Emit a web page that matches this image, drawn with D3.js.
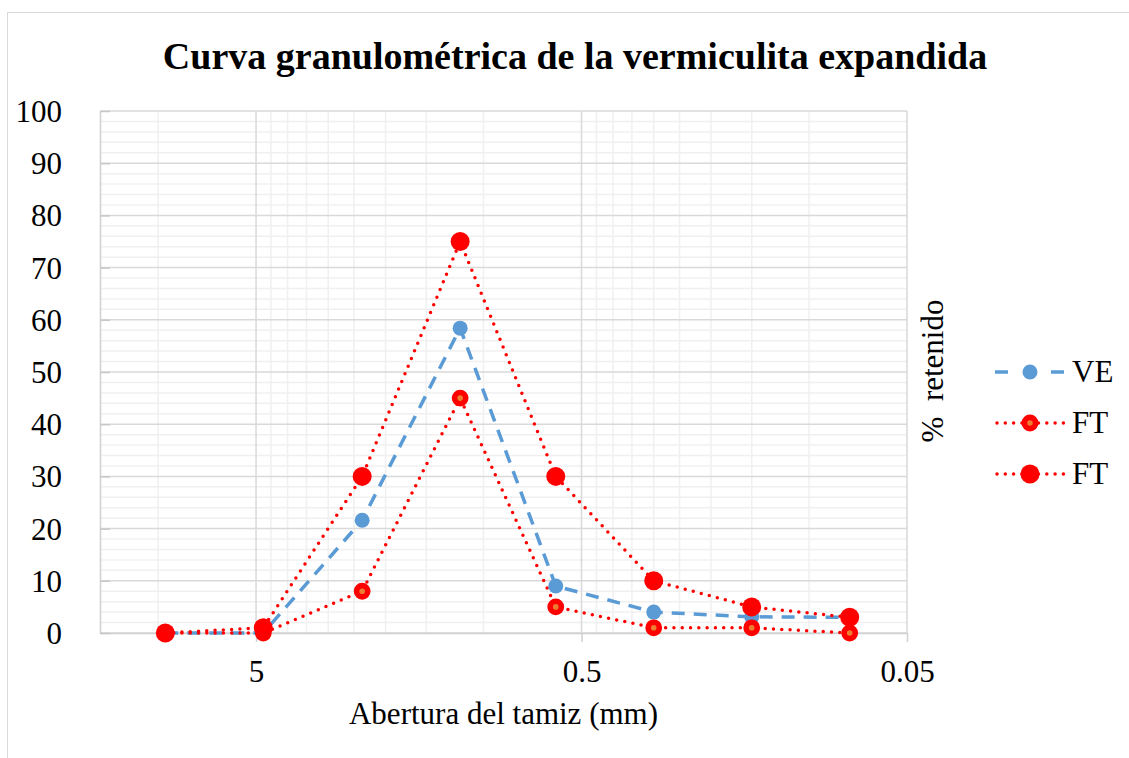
<!DOCTYPE html>
<html>
<head>
<meta charset="utf-8">
<script src="https://cdnjs.cloudflare.com/ajax/libs/d3/7.8.5/d3.min.js"></script>
<style>
  body { margin: 0; background: #fff; }
</style>
</head>
<body>
<div id="wrapper"></div>
<script>
// 1. Data
const aberturas = [9.5, 4.75, 2.36, 1.18, 0.6, 0.3, 0.15, 0.075]
const retenidoVE = [0, 0, 21.6, 58.4, 9, 4, 3.1, 3]
const retenidoFTmin = [0, 0, 8, 45, 5, 1, 1, 0]
const retenidoFTmax = [0, 1, 30, 75, 30, 10, 5, 3]
const serieNames = ["VE", "FT", "FT"]
const xTickValues = [5, 0.5, 0.05]
const xTickLabels = ["5", "0.5", "0.05"]
const yTickValues = [0, 10, 20, 30, 40, 50, 60, 70, 80, 90, 100]

const titleText = "Curva granulométrica de la vermiculita expandida"
const xTitle = "Abertura del tamiz (mm)"
const yTitle = "%  retenido"

const series = [
  { name: serieNames[0], values: retenidoVE, kind: "ve" },
  { name: serieNames[1], values: retenidoFTmin, kind: "ftmin" },
  { name: serieNames[2], values: retenidoFTmax, kind: "ftmax" },
]

const styles = {
  ve: { stroke: "#5b9bd5", dash: "13 9", cap: "butt" },
  ftmin: { stroke: "#ff0000", dash: "0 8.3", cap: "round" },
  ftmax: { stroke: "#ff0000", dash: "0 8.3", cap: "round" },
}

const fontFamily = "'Liberation Serif', 'Times New Roman', serif"

function drawChart() {
  // 2. Chart dimensions
  let dimensions = {
    width: 1129,
    height: 758,
    margin: { top: 111, right: 222, bottom: 125, left: 100 }
  }
  dimensions.boundedWidth = dimensions.width
    - dimensions.margin.left
    - dimensions.margin.right
  dimensions.boundedHeight = dimensions.height
    - dimensions.margin.top
    - dimensions.margin.bottom

  // 3. Draw canvas
  const wrapper = d3.select("#wrapper")
    .append("svg")
      .attr("width", dimensions.width)
      .attr("height", dimensions.height)
      .style("font-family", fontFamily)

  wrapper.append("rect")
      .attr("x", 7.5)
      .attr("y", 12.5)
      .attr("width", 1200)
      .attr("height", 800)
      .attr("fill", "#fff")
      .attr("stroke", "#d9d9d9")

  const bounds = wrapper.append("g")
      .attr("transform", `translate(${dimensions.margin.left},${dimensions.margin.top})`)

  // 4. Scales
  const xScale = d3.scaleLog()
    .domain([15.08, 0.05])
    .range([0, dimensions.boundedWidth])

  const yScale = d3.scaleLinear()
    .domain([0, 100])
    .range([dimensions.boundedHeight, 0])

  // 5. Gridlines
  const decades = [0.05, 0.5, 5]
  const xMinor = decades.flatMap(d => d3.range(2, 10).map(k => d * k))
    .filter(v => v < 15)
  const yMinor = d3.range(0, 101, 2).filter(v => v % 10 !== 0)

  const grid = bounds.append("g")
  grid.selectAll(".xminor")
    .data(xMinor)
    .join("line")
      .attr("x1", d => xScale(d))
      .attr("x2", d => xScale(d))
      .attr("y1", 0)
      .attr("y2", dimensions.boundedHeight)
      .attr("stroke", "#f0f0f0")
      .attr("stroke-width", 1.5)
  grid.selectAll(".yminor")
    .data(yMinor)
    .join("line")
      .attr("x1", 0)
      .attr("x2", dimensions.boundedWidth)
      .attr("y1", d => yScale(d))
      .attr("y2", d => yScale(d))
      .attr("stroke", "#f0f0f0")
      .attr("stroke-width", 1.5)
  grid.selectAll(".ymajor")
    .data(yTickValues)
    .join("line")
      .attr("x1", 0)
      .attr("x2", dimensions.boundedWidth)
      .attr("y1", d => yScale(d))
      .attr("y2", d => yScale(d))
      .attr("stroke", "#d9d9d9")
      .attr("stroke-width", 1.5)
  grid.selectAll(".xmajor")
    .data(xTickValues)
    .join("line")
      .attr("x1", d => xScale(d))
      .attr("x2", d => xScale(d))
      .attr("y1", 0)
      .attr("y2", dimensions.boundedHeight)
      .attr("stroke", "#d9d9d9")
      .attr("stroke-width", 1.5)

  // 6. Axes
  const xAxisGenerator = d3.axisBottom(xScale)
    .tickValues(xTickValues)
    .tickFormat((d, i) => xTickLabels[i])
    .tickSizeInner(9)
    .tickSizeOuter(0)
    .tickPadding(18)

  const xAxis = bounds.append("g")
      .attr("transform", `translate(0,${dimensions.boundedHeight})`)
      .call(xAxisGenerator)
  xAxis.select(".domain").attr("stroke", "#d0d0d0").attr("stroke-width", 1.5)
  xAxis.selectAll(".tick line").attr("stroke", "#d0d0d0").attr("stroke-width", 1.5)
  xAxis.selectAll(".tick text")
      .attr("fill", "#000")
      .style("font-size", "31px")
      .style("font-family", fontFamily)

  const yAxisGenerator = d3.axisLeft(yScale)
    .tickValues(yTickValues)
    .tickSizeInner(-10)
    .tickSizeOuter(0)
    .tickPadding(38)

  const yAxis = bounds.append("g")
      .call(yAxisGenerator)
  yAxis.select(".domain").attr("stroke", "#d0d0d0").attr("stroke-width", 1.5)
  yAxis.selectAll(".tick line").attr("stroke", "#c8c8c8").attr("stroke-width", 1.5)
  yAxis.selectAll(".tick text")
      .attr("fill", "#000")
      .attr("dy", "0.34em")
      .style("font-size", "31px")
      .style("font-family", fontFamily)

  // 7. Lines
  const lineGenerator = d3.line()
    .x((d, i) => xScale(aberturas[i]))
    .y(d => yScale(d))

  bounds.append("g").selectAll("path")
    .data(series)
    .join("path")
      .attr("d", d => lineGenerator(d.values))
      .attr("fill", "none")
      .attr("stroke", d => styles[d.kind].stroke)
      .attr("stroke-width", 3.5)
      .attr("stroke-dasharray", d => styles[d.kind].dash)
      .attr("stroke-linecap", d => styles[d.kind].cap)

  // 8. Markers
  function drawMarker(sel, kind) {
    if (kind === "ve") {
      sel.attr("r", 7.5).attr("fill", "#5b9bd5")
    } else if (kind === "ftmin") {
      sel.attr("r", 5.6).attr("fill", "#ed7d31")
        .attr("stroke", "#ff0000").attr("stroke-width", 5.6)
    } else {
      sel.attr("r", 9.5).attr("fill", "#ff0000")
    }
  }

  series.forEach(s => {
    bounds.append("g").selectAll("circle")
      .data(s.values)
      .join("circle")
        .attr("cx", (d, i) => xScale(aberturas[i]))
        .attr("cy", d => yScale(d))
        .call(drawMarker, s.kind)
  })

  // 9. Titles
  wrapper.append("text")
      .attr("x", 575)
      .attr("y", 69)
      .attr("text-anchor", "middle")
      .attr("font-weight", "bold")
      .style("font-size", "38px")
      .text(titleText)

  wrapper.append("text")
      .attr("x", dimensions.margin.left + dimensions.boundedWidth / 2)
      .attr("y", 724)
      .attr("text-anchor", "middle")
      .style("font-size", "31px")
      .text(xTitle)

  wrapper.append("text")
      .attr("transform", "translate(943,371) rotate(-90)")
      .attr("text-anchor", "middle")
      .style("font-size", "31px")
      .style("white-space", "pre")
      .text(yTitle)

  // 10. Legend
  const legend = wrapper.append("g")
  const legendRows = legend.selectAll("g")
    .data(series)
    .join("g")
      .attr("transform", (d, i) => `translate(0,${372 + i * 51})`)

  legendRows.append("line")
      .attr("x1", d => d.kind === "ve" ? 995 : 997)
      .attr("x2", 1065)
      .attr("y1", 0)
      .attr("y2", 0)
      .attr("stroke", d => styles[d.kind].stroke)
      .attr("stroke-width", 3.5)
      .attr("stroke-dasharray", d => d.kind === "ve" ? "13 43" : styles[d.kind].dash)
      .attr("stroke-linecap", d => styles[d.kind].cap)

  legendRows.append("circle")
      .attr("cx", 1030)
      .attr("cy", 0)
      .each(function(d) { d3.select(this).call(drawMarker, d.kind) })

  legendRows.append("text")
      .attr("x", 1072)
      .attr("y", 10)
      .style("font-size", "31px")
      .text(d => d.name)
}

drawChart()
</script>
</body>
</html>
